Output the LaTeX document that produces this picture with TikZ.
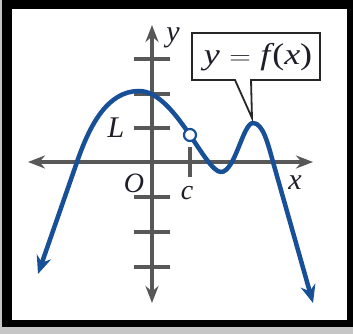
\documentclass[tikz,border=0pt]{standalone}
\usepackage{fontspec}
\setmainfont{Liberation Serif}
\usetikzlibrary{arrows.meta}
\definecolor{curveblue}{RGB}{24,80,152}
\definecolor{axisgray}{RGB}{88,88,88}
\definecolor{txt}{RGB}{30,30,40}
\begin{document}
\begin{tikzpicture}[x=1pt,y=1pt,
  axisline/.style={draw=axisgray, line width=4.5pt, {Stealth[length=17pt,width=13pt]}-{Stealth[length=17pt,width=13pt]}},
  tickmark/.style={draw=axisgray, line width=3.8pt},
  curveline/.style={draw=curveblue, line width=4.5pt, line join=round, {Stealth[length=18pt,width=15pt]}-{Stealth[length=18pt,width=15pt]}},
  lab/.style={font=\fontsize{30}{34}\selectfont\itshape, text=txt, inner sep=0pt},
  callout/.style={draw=black!85, fill=white, line width=1.8pt, line join=miter}
]
\useasboundingbox (0,0) rectangle (353,334);
% frame
\fill[gray!45] (0,0) rectangle (353,334);
\fill[black] (2,7) rectangle (353,334);
\fill[white] (12,14) rectangle (347,325);
% axes
\coordinate (xl) at (28,172);
\coordinate (xr) at (313,172);
\coordinate (yb) at (152,31);
\coordinate (yt) at (152,309);
\draw[axisline] (xl) -- (xr);
\draw[axisline] (yb) -- (yt);
% ticks
\foreach \t/\yy in {a/275,b/240,l/206,d/137,e/102,f/67}{
  \coordinate (t\t l) at (134,\yy);
  \coordinate (t\t r) at (170,\yy);
  \draw[tickmark] (t\t l) -- (t\t r);
}
\coordinate (ct) at (190,187);
\coordinate (cb) at (190,157);
\draw[tickmark] (ct) -- (cb);
% labels
\node[lab] (ylab) at (173,296) {y};
\node[lab] (Llab) at (116,206) {L};
\node[lab, font=\fontsize{28}{32}\selectfont\itshape] (Olab) at (134,151) {O};
\node[lab, font=\fontsize{28}{32}\selectfont\itshape] (clab) at (187,141) {c};
\node[lab] (xlab) at (295,151) {x};
% curve
\coordinate (c0) at (38,60);
\coordinate (c1) at (77,172);
\coordinate (cpk) at (139,243);
\coordinate (cmin) at (221,162);
\coordinate (cmax) at (253,211);
\coordinate (c5) at (273,172);
\coordinate (c6) at (313,31);
\draw[curveline] (c0) -- (c1)
  .. controls (90,210) and (108,243) .. (cpk)
  .. controls (175,243) and (205,162) .. (cmin)
  .. controls (235,162) and (243,211) .. (cmax)
  .. controls (263,211) and (268,190) .. (c5)
  -- (c6);
\node[circle, draw=curveblue, fill=white, line width=2.2pt, minimum size=12pt, inner sep=0pt] (hole) at (190,199) {};
% callout
\coordinate (tip) at (252,216);
\draw[callout] (192,254) -- (192,301) -- (320,301) -- (320,254) -- (251,254) -- (tip) -- (235,254) -- cycle;
\node[lab] (flab) at (258,277) {\scalebox{1.2}[1]{y\hspace{8pt}$=$\hspace{8pt}f\kern1.5pt{\upshape(}x{\upshape)}}};
\end{tikzpicture}
\end{document}
